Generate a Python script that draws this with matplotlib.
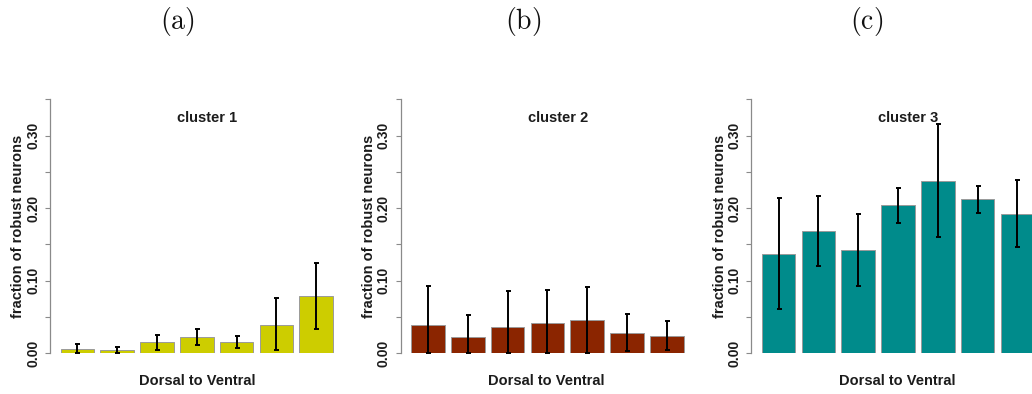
import matplotlib
matplotlib.use("Agg")
import matplotlib.pyplot as plt
import numpy as np

# Fraction of robust neurons per dorsal-to-ventral bin, one list per cluster
cluster1_mean = [0.0055, 0.0037, 0.0147, 0.0225, 0.0151, 0.0390, 0.0785]
cluster1_low = [0.0000, 0.0000, 0.0041, 0.0106, 0.0069, 0.0037, 0.0330]
cluster1_high = [0.0129, 0.0078, 0.0252, 0.0335, 0.0239, 0.0753, 0.1244]

cluster2_mean = [0.0390, 0.0220, 0.0353, 0.0418, 0.0459, 0.0280, 0.0239]
cluster2_low = [0.0000, 0.0000, 0.0000, 0.0000, 0.0000, 0.0023, 0.0037]
cluster2_high = [0.0918, 0.0519, 0.0849, 0.0868, 0.0909, 0.0542, 0.0436]

cluster3_mean = [0.1368, 0.1685, 0.1418, 0.2038, 0.2378, 0.2120, 0.1923]
cluster3_low = [0.0601, 0.1203, 0.0923, 0.1800, 0.1602, 0.1932, 0.1460]
cluster3_high = [0.2134, 0.2162, 0.1914, 0.2272, 0.3154, 0.2300, 0.2391]

panel_tags = ["(a)", "(b)", "(c)"]
panel_titles = ["cluster 1", "cluster 2", "cluster 3"]
bar_colors = ["#CDCD00", "#8B2500", "#008B8B"]
ytick_values = [0.00, 0.05, 0.10, 0.15, 0.20, 0.25, 0.30, 0.35]
ytick_labels = ["0.00", "", "0.10", "", "0.20", "", "0.30", ""]
xlabel = "Dorsal to Ventral"
ylabel = "fraction of robust neurons"

means = [cluster1_mean, cluster2_mean, cluster3_mean]
lows = [cluster1_low, cluster2_low, cluster3_low]
highs = [cluster1_high, cluster2_high, cluster3_high]

W, H = 1032, 394
fig = plt.figure(figsize=(W / 100, H / 100), dpi=100)
fig.patch.set_facecolor("white")

plt.rcParams["font.family"] = ["Liberation Sans", "DejaVu Sans"]
plt.rcParams["mathtext.fontset"] = "cm"

txt_color = "#1c1c1c"
spine_color = "#8a8a8a"

pitch_px = 39.8          # pixels per bar slot
bar_width = 0.846         # fraction of a slot covered by a bar
first_gap_px = 10.5       # gap between axis line and first bar
spine_x = [50.0, 400.7, 751.3]
y0_px, ytop_px = 353.0, 99.3
ax_w_px = 300.0

title_x = [207, 558, 908.5]
xlabel_x = [197, 546, 897.5]
ylabel_x = [18.5, 369, 720]
tag_x = [177, 523, 867]


def px(x, y):
    return x / W, 1 - y / H


for k in range(3):
    left = spine_x[k]
    ax = fig.add_axes([left / W, (H - y0_px) / H, ax_w_px / W, (y0_px - ytop_px) / H])
    ax.patch.set_alpha(0)
    x_left = -(first_gap_px + bar_width * pitch_px / 2) / pitch_px
    ax.set_xlim(x_left, x_left + ax_w_px / pitch_px)
    ax.set_ylim(0, 0.35)

    xs = np.arange(len(means[k]))
    m = np.array(means[k])
    lo = np.array(lows[k])
    hi = np.array(highs[k])
    ax.bar(xs, m, width=bar_width, color=bar_colors[k], edgecolor="#9a9a9a",
           linewidth=0.7, zorder=2)
    ax.errorbar(xs, m, yerr=[m - lo, hi - m], fmt="none", ecolor="black",
                elinewidth=1.4, capsize=1.8, capthick=1.4, zorder=3)

    for side in ["top", "right", "bottom"]:
        ax.spines[side].set_visible(False)
    ax.spines["left"].set_color(spine_color)
    ax.spines["left"].set_linewidth(0.9)
    ax.set_xticks([])
    ax.set_yticks(ytick_values)
    ax.set_yticklabels(ytick_labels, rotation=90, va="center", ha="right",
                       fontsize=10, fontweight="bold", color=txt_color)
    ax.tick_params(axis="y", length=3.5, width=0.8, color=spine_color, pad=3.6)

    fig.text(*px(title_x[k], 118), panel_titles[k], ha="center", va="center",
             fontsize=10.5, fontweight="bold", color=txt_color)
    fig.text(*px(xlabel_x[k], 381), xlabel, ha="center", va="center",
             fontsize=10.5, fontweight="bold", color=txt_color)
    fig.text(*px(ylabel_x[k], 226.5), ylabel, ha="center", va="center",
             rotation=90, fontsize=10.5, fontweight="bold", color=txt_color)
    fig.text(*px(tag_x[k], 21), r"$\mathrm{" + panel_tags[k] + "}$",
             ha="center", va="center", fontsize=20, color="#111111")

fig.savefig("out.png", dpi=100, facecolor="white")
